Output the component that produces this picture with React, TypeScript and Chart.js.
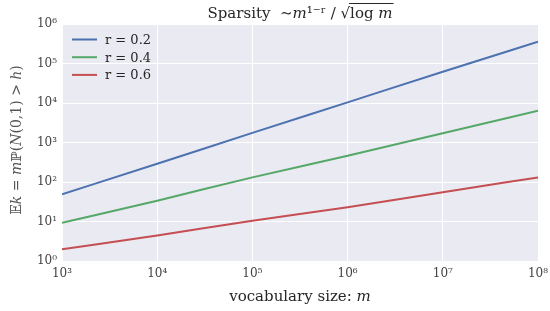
import React, { useEffect, useRef } from "react";
import { Chart, registerables } from "chart.js";

Chart.register(...registerables);

const vocabSizes = [1e3, 1e4, 1e5, 1e6, 1e7, 1e8];
const seriesLabels = ["r = 0.2", "r = 0.4", "r = 0.6"];
const seriesR02 = [49, 290, 1750, 10400, 62000, 355000];
const seriesR04 = [9.3, 33.7, 131, 463, 1710, 6400];
const seriesR06 = [1.98, 4.4, 10.5, 23, 55, 131];
const xTickValues = [1e3, 1e4, 1e5, 1e6, 1e7, 1e8];
const yTickValues = [1e0, 1e1, 1e2, 1e3, 1e4, 1e5, 1e6];
const colors = ["#4C72B0", "#55A868", "#C44E52"];

const sup = (n: number) => {
  const map: Record<string, string> = { "0": "⁰", "1": "¹", "2": "²", "3": "³", "4": "⁴", "5": "⁵", "6": "⁶", "7": "⁷", "8": "⁸", "9": "⁹" };
  return "10" + String(Math.round(Math.log10(n))).split("").map((c) => map[c]).join("");
};

const SERIF = "'DejaVu Serif', serif";

const decor = {
  id: "decor",
  beforeDraw(chart: any) {
    const { ctx, chartArea } = chart;
    ctx.save();
    ctx.fillStyle = "#EAEAF2";
    ctx.fillRect(chartArea.left, chartArea.top, chartArea.right - chartArea.left, chartArea.bottom - chartArea.top);
    ctx.restore();
  },
  afterDraw(chart: any) {
    const { ctx } = chart;
    ctx.save();
    // title
    ctx.fillStyle = "#262626";
    ctx.textBaseline = "alphabetic";
    ctx.font = `15px ${SERIF}`;
    const p1 = "Sparsity  ∼𝑚¹⁻ʳ / √";
    const p2 = "log 𝑚";
    const w1 = ctx.measureText(p1).width;
    const w2 = ctx.measureText(p2).width;
    const x0 = 300 - (w1 + w2) / 2;
    const base = 18;
    ctx.textAlign = "left";
    ctx.fillText(p1, x0, base);
    ctx.fillText(p2, x0 + w1, base);
    ctx.strokeStyle = "#262626";
    ctx.lineWidth = 1;
    ctx.beginPath();
    ctx.moveTo(x0 + w1 - 1, 3.5);
    ctx.lineTo(x0 + w1 + w2 + 1, 3.5);
    ctx.stroke();
    // x title
    ctx.textAlign = "center";
    ctx.textBaseline = "middle";
    ctx.fillText("vocabulary size: 𝑚", 300, 297);
    // y title
    ctx.translate(17, 140);
    ctx.rotate(-Math.PI / 2);
    ctx.fillStyle = "#555";
    ctx.font = `14px ${SERIF}`;
    ctx.fillText("𝔼𝑘 = 𝑚ℙ(𝑁(0,1) > ℎ)", 0, 0);
    ctx.restore();

    // legend
    ctx.save();
    ctx.font = `13px ${SERIF}`;
    ctx.textBaseline = "middle";
    ctx.textAlign = "left";
    chart.data.datasets.forEach((ds: any, i: number) => {
      const y = 39.5 + i * 17.7;
      ctx.strokeStyle = ds.borderColor;
      ctx.lineWidth = 2;
      ctx.beginPath();
      ctx.moveTo(72, y);
      ctx.lineTo(97, y);
      ctx.stroke();
      ctx.fillStyle = "#262626";
      ctx.fillText(ds.label, 105, y + 1);
    });
    ctx.restore();
  },
};

export default function App() {
  const ref = useRef<HTMLCanvasElement>(null);
  useEffect(() => {
    document.body.style.margin = "0";
    const mk = (vals: number[]) => vocabSizes.map((x, i) => ({ x, y: vals[i] }));
    const chart = new Chart(ref.current!, {
      type: "line",
      data: {
        datasets: [seriesR02, seriesR04, seriesR06].map((vals, i) => ({
          label: seriesLabels[i],
          data: mk(vals),
          borderColor: colors[i],
          backgroundColor: colors[i],
          borderWidth: 2,
          pointRadius: 0,
          cubicInterpolationMode: "monotone" as const,
        })),
      },
      options: {
        animation: false,
        responsive: false,
        layout: { padding: { top: 24, right: 12, left: 0, bottom: 0 } },
        plugins: { legend: { display: false }, tooltip: { enabled: false } },
        scales: {
          x: {
            type: "logarithmic",
            min: 1e3,
            max: 1e8,
            afterBuildTicks: (s: any) => { s.ticks = xTickValues.map((v) => ({ value: v })); },
            afterFit: (s: any) => { s.height = 50; s.paddingRight = 0; s.paddingLeft = 0; },
            ticks: { callback: (v: any) => sup(Number(v)), color: "#444", font: { family: SERIF, size: 12 }, maxRotation: 0, padding: 6 },
            grid: { color: "#ffffff", lineWidth: 1, drawTicks: false },
            border: { display: false },
          },
          y: {
            type: "logarithmic",
            min: 1,
            max: 1e6,
            afterBuildTicks: (s: any) => { s.ticks = yTickValues.map((v) => ({ value: v })); },
            afterFit: (s: any) => { s.width = 62; s.paddingTop = 0; s.paddingBottom = 0; },
            ticks: { callback: (v: any) => sup(Number(v)), color: "#444", font: { family: SERIF, size: 12 }, padding: 5 },
            grid: { color: "#ffffff", lineWidth: 1, drawTicks: false },
            border: { display: false },
          },
        },
      },
      plugins: [decor],
    });
    return () => chart.destroy();
  }, []);
  return (
    <div style={{ position: "absolute", left: 0, top: 0, width: 550, height: 311 }}>
      <canvas ref={ref} width={550} height={311} style={{ width: 550, height: 311 }} />
    </div>
  );
}
